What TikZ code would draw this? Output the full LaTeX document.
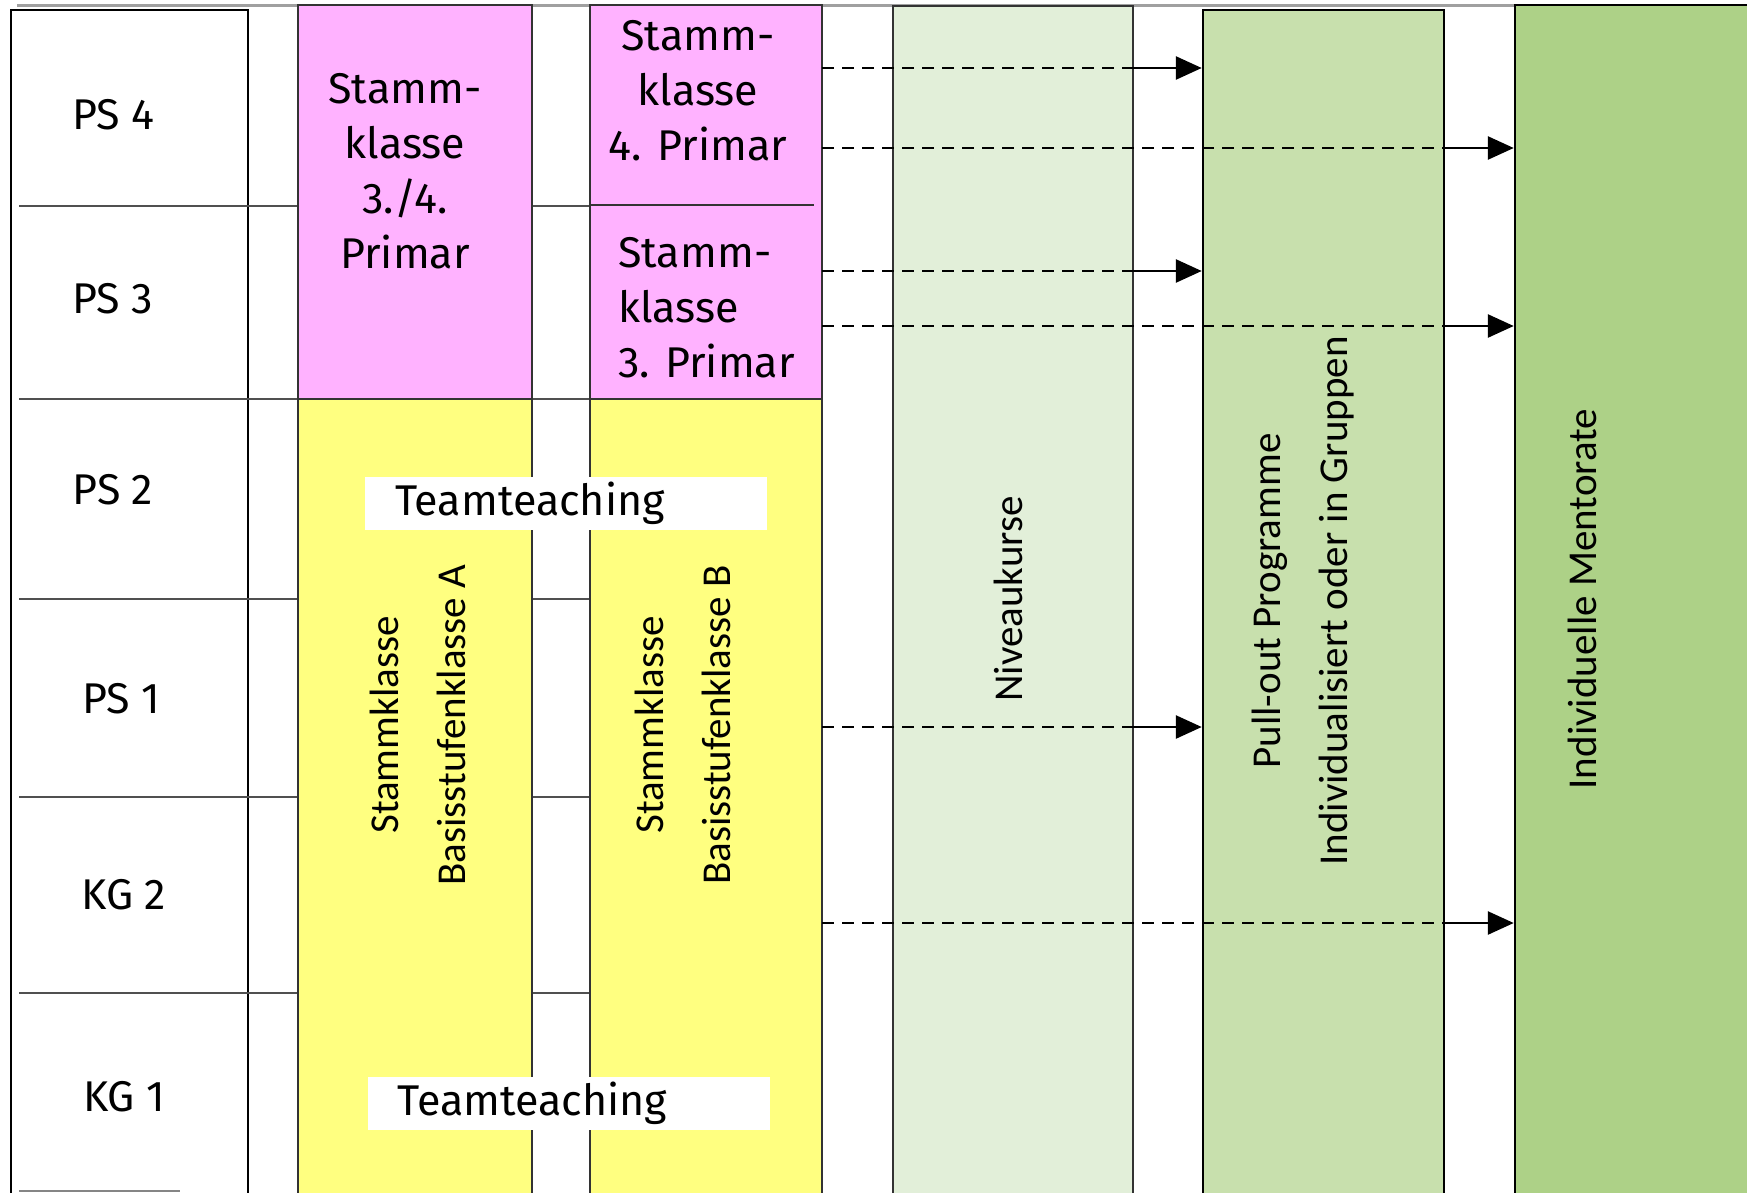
\documentclass[tikz,border=0pt]{standalone}
\usepackage{fontspec}
\setmainfont{Fira Sans}
\newfontfamily\calfont{Carlito}
\usetikzlibrary{arrows.meta}
\definecolor{pinkfill}{HTML}{FFB2FF}
\definecolor{yellowfill}{HTML}{FFFF80}
\definecolor{nivfill}{HTML}{E2EFD9}
\definecolor{pullfill}{HTML}{C8E0AD}
\definecolor{mentfill}{HTML}{ADD187}
\definecolor{edgegray}{HTML}{333333}
\definecolor{rulegray}{HTML}{505050}
\definecolor{topgray}{HTML}{A0A0A0}
\begin{document}
\begin{tikzpicture}[x=1pt,y=-1pt,
  band/.style={draw=edgegray,line width=2.5pt,inner sep=0pt,anchor=center},
  rowline/.style={draw=rulegray,line width=2.5pt},
  framel/.style={draw=black,line width=2.4pt},
  grade/.style={font=\fontsize{43}{50}\selectfont,inner sep=0pt},
  classtxt/.style={font=\fontsize{43}{55}\selectfont,inner sep=0pt},
  vtext/.style={rotate=90,align=center,inner sep=0pt,font=\calfont\fontsize{41}{67}\selectfont},
  teambox/.style={fill=white,inner xsep=30pt,inner ysep=0pt,minimum width=402pt,minimum height=53pt,
    text width=342pt,align=left,font=\fontsize{43}{50}\selectfont},
  dashlink/.style={draw=black,line width=2.6pt,dash pattern=on 12pt off 8pt},
  arrowlink/.style={draw=black,line width=2.8pt,-{Triangle[length=26pt,width=23pt]}}]
\useasboundingbox (0,0) rectangle (1747,1192);
\clip (0,0) rectangle (1747,1192);

% page rule along the top
\draw[topgray,line width=3pt] (17,5) -- (1747,5);

% grade column
\draw[framel] (11,1200) -- (11,10) -- (248,10) -- (248,1200);
\foreach \yy in {206,399,599,797,993}{
  \draw[rowline] (19,\yy) -- (298,\yy);
  \draw[rowline] (532,\yy) -- (590,\yy);
}
\draw[rulegray!70,line width=2pt] (19,1191) -- (180,1191);

\node[grade] (ps4) at (113.5,115) {PS 4};
\node[grade] (ps3) at (113,299) {PS 3};
\node[grade] (ps2) at (113,490) {PS 2};
\node[grade] (ps1) at (121.5,699) {PS 1};
\node[grade] (kg2) at (124,895) {KG 2};
\node[grade] (kg1) at (124,1097) {KG 1};

% class columns A and B
\node[band,fill=pinkfill,minimum width=234pt,minimum height=394pt] (pinkA) at (415,202) {};
\node[band,fill=yellowfill,minimum width=234pt,minimum height=801pt] (yelA) at (415,799.5) {};
\node[band,fill=pinkfill,minimum width=232pt,minimum height=394pt] (pinkB) at (706,202) {};
\node[band,fill=yellowfill,minimum width=232pt,minimum height=801pt] (yelB) at (706,799.5) {};
\draw[edgegray,line width=2.5pt] (pinkB.west |- 0,205) -- (814,205);

\node[classtxt,align=center] (txtA) at (405,171) {Stamm-\\klasse\\3./4.\\Primar};
\node[classtxt,align=center] (txtB4) at (698,91) {Stamm-\\klasse\\4. Primar};
\node[classtxt,align=left,anchor=west] (txtB3) at (618,308) {Stamm-\\klasse\\3. Primar};

\node[vtext] (stA) at (417.5,725) {Stammklasse\\Basisstufenklasse A};
\node[vtext] (stB) at (683,725) {Stammklasse\\Basisstufenklasse B};

\node[teambox] (teamTop) at (566,503.5) {Teamteaching};
\node[teambox] (teamBot) at (568.5,1103) {\raisebox{6pt}{Teamteaching}};

% support offers
\node[band,fill=nivfill,minimum width=240pt,minimum height=1194pt] (niv) at (1013,603) {};
\node[band,draw=black,fill=pullfill,minimum width=241pt,minimum height=1190pt] (pull) at (1323.5,605) {};
\node[band,draw=black,fill=mentfill,minimum width=285pt,minimum height=1195pt] (ment) at (1657.5,602.5) {};

\node[vtext] (nivtxt) at (1008,599) {Niveaukurse};
\node[vtext] (pulltxt) at (1303,601) {Pull-out Programme\\Individualisiert oder in Gruppen};
\node[vtext] (menttxt) at (1582,599) {Individuelle Mentorate};

% links from the classes to the offers
\coordinate (l1) at (822,68);
\coordinate (l2) at (822,148);
\coordinate (l3) at (822,271);
\coordinate (l4) at (822,326);
\coordinate (l5) at (822,727);
\coordinate (l6) at (822,923);

\foreach \c in {l1,l3,l5}{
  \draw[dashlink] (\c) -- (\c -| niv.east);
  \draw[arrowlink] (\c -| niv.east) -- (\c -| pull.west);
}
\foreach \c in {l2,l4,l6}{
  \draw[dashlink] (\c) -- (\c -| pull.east);
  \draw[arrowlink] (\c -| pull.east) -- (\c -| ment.west);
}
\end{tikzpicture}
\end{document}
